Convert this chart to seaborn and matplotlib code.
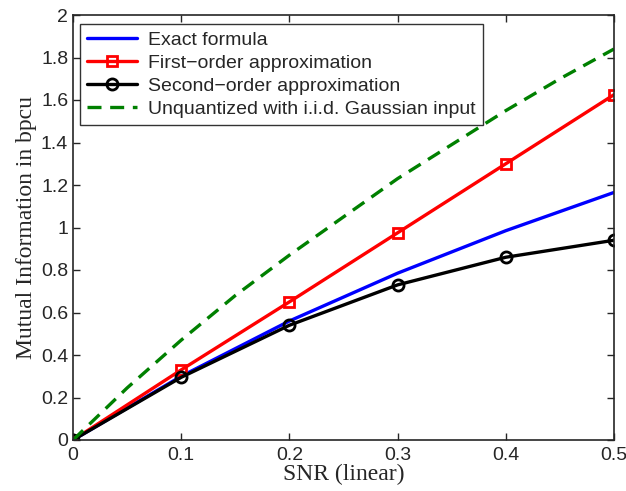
import numpy as np
import pandas as pd
import seaborn as sns
import matplotlib
matplotlib.use("Agg")
import matplotlib.pyplot as plt

snr = [0.0, 0.1, 0.2, 0.3, 0.4, 0.5]
exact = [0.0, 0.30, 0.56, 0.785, 0.985, 1.165]
first_order = [0.0, 0.33, 0.65, 0.975, 1.30, 1.625]
second_order = [0.0, 0.295, 0.54, 0.73, 0.86, 0.94]

snr_fine = [0.0, 0.05, 0.1, 0.15, 0.2, 0.25, 0.3, 0.35, 0.4, 0.45, 0.5]
gaussian = [0.0, 0.245, 0.47, 0.68, 0.87, 1.05, 1.23, 1.39, 1.55, 1.70, 1.84]

sns.set_style("ticks")
plt.rcParams['font.family'] = ['Liberation Sans', 'DejaVu Sans']
plt.rcParams['xtick.direction'] = 'in'
plt.rcParams['ytick.direction'] = 'in'

fig = plt.figure(figsize=(6.26, 4.91), dpi=100)
ax = fig.add_axes([73 / 626, 51 / 491, 541 / 626, 425 / 491])

sns.lineplot(x=snr, y=exact, ax=ax, color='blue', linewidth=2.4,
             label='Exact formula')
sns.lineplot(x=snr, y=first_order, ax=ax, color='red', linewidth=2.4,
             marker='s', markersize=6.5, markerfacecolor='none',
             markeredgecolor='red', markeredgewidth=2.0,
             label='First\u2212order approximation')
sns.lineplot(x=snr, y=second_order, ax=ax, color='black', linewidth=2.4,
             marker='o', markersize=8, markerfacecolor='none',
             markeredgecolor='black', markeredgewidth=2.0,
             label='Second\u2212order approximation')
sns.lineplot(x=snr_fine, y=gaussian, ax=ax, color='green', linewidth=2.4,
             linestyle=(0, (4.2, 2.6)), label='Unquantized with i.i.d. Gaussian input')

ax.set_xlim(0, 0.5)
ax.set_ylim(0, 2)
ax.set_xticks([0, 0.1, 0.2, 0.3, 0.4, 0.5])
ax.set_xticklabels(['0', '0.1', '0.2', '0.3', '0.4', '0.5'])
ax.set_yticks(np.arange(0, 2.01, 0.2))
ax.set_yticklabels(['0', '0.2', '0.4', '0.6', '0.8', '1', '1.2', '1.4', '1.6', '1.8', '2'])
ax.tick_params(axis='both', labelsize=14, top=True, right=True, length=5, width=1)
ax.tick_params(axis='x', pad=5)
for s in ax.spines.values():
    s.set_visible(True)
    s.set_linewidth(1.2)

ax.set_xlabel('SNR (linear)', family='Liberation Serif', fontsize=17, labelpad=0)
ax.set_ylabel('Mutual Information in bpcu', family='Liberation Serif', fontsize=17, labelpad=3)

leg = ax.legend(loc='upper left', bbox_to_anchor=(0.013, 0.978), fontsize=14,
                frameon=True, fancybox=False, borderaxespad=0, handlelength=2.6,
                labelspacing=0.28, borderpad=0.35, handletextpad=0.55)
leg.get_frame().set_edgecolor('black')
leg.get_frame().set_linewidth(1.0)

fig.savefig('out.png', dpi=100)
